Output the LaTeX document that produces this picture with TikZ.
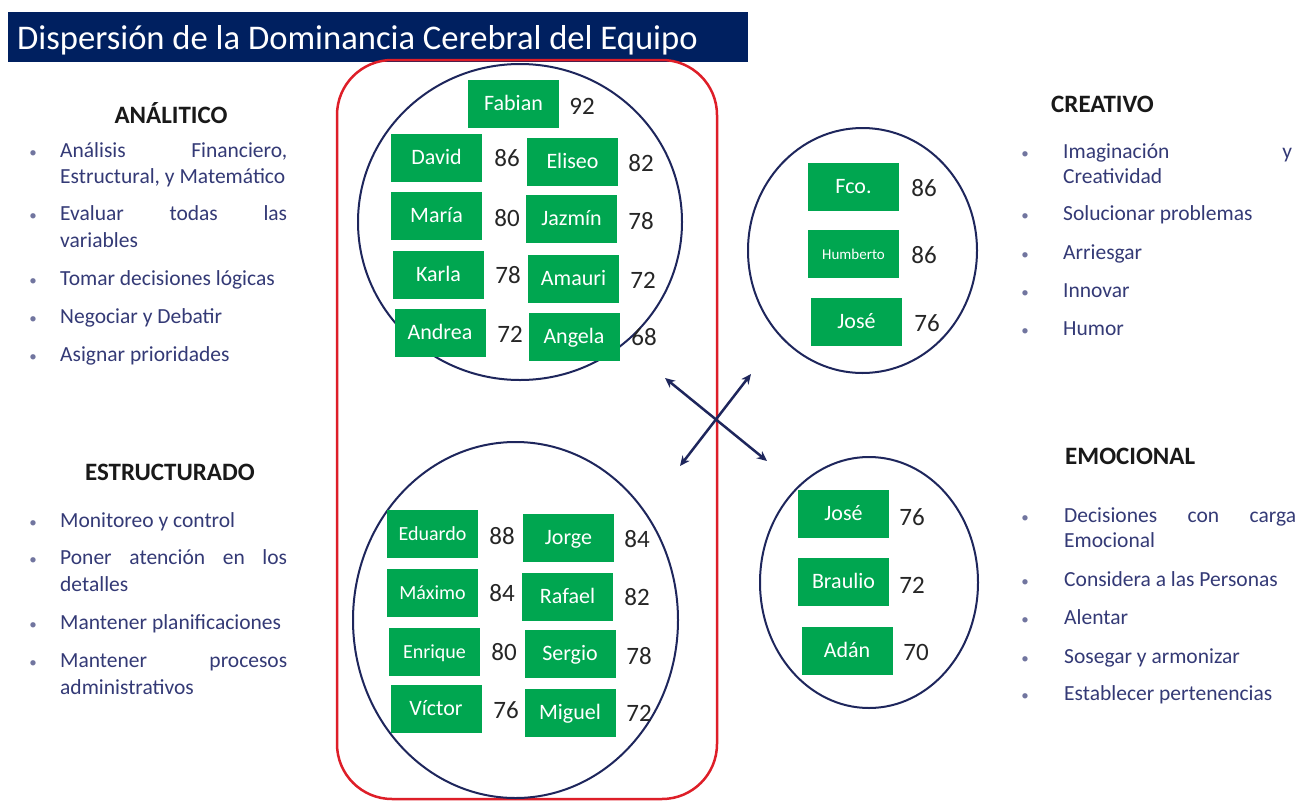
\documentclass[tikz,border=0pt]{standalone}
\usepackage{fontspec}
\setmainfont{Carlito}
\usetikzlibrary{arrows.meta}
\definecolor{navyband}{RGB}{0,32,96}
\definecolor{boxgreen}{RGB}{0,166,80}
\definecolor{circline}{RGB}{30,38,92}
\definecolor{listblue}{RGB}{52,58,118}
\definecolor{framered}{RGB}{222,30,40}
\begin{document}
\begin{tikzpicture}[x=1pt,y=-1pt,
  nbox/.style={fill=boxgreen, text=white, minimum width=91pt, minimum height=48pt, inner sep=0pt,
    text height=15pt, text depth=2pt, font=\fontsize{22}{24}\selectfont},
  sbox/.style={nbox, font=\fontsize{20}{22}\selectfont},
  tbox/.style={nbox, text height=12pt, text depth=1pt, font=\fontsize{15}{17}\selectfont},
  num/.style={text=black!85, inner sep=0pt, text height=16pt, text depth=0pt, font=\fontsize{25}{27}\selectfont},
  circ/.style={draw=circline, line width=2pt},
  lt/.style={anchor=base west, inner sep=0pt, text=listblue, font=\fontsize{21.5}{26}\selectfont},
  bul/.style={anchor=base, inner sep=0pt, text=listblue!70, font=\fontsize{15}{18}\selectfont},
  hd/.style={inner sep=0pt, text=black!90, font=\fontsize{25}{28}\selectfont\bfseries},
  arr/.style={{Stealth[length=10pt,width=9pt]}-{Stealth[length=10pt,width=9pt]}, draw=circline, line width=2.5pt}
]
\path[use as bounding box, fill=white] (0,0) rectangle (1302,801);

% title band
\node[fill=navyband, minimum width=740pt, minimum height=50pt, anchor=north west, inner sep=0pt] (band) at (8,12) {};
\node[anchor=base west, inner sep=0pt, text=white, font=\fontsize{34.6}{40}\selectfont] (title) at (17,49) {Dispersión de la Dominancia Cerebral del Equipo};

% red frame
\draw[framered, line width=2.5pt, rounded corners=55pt] (337,60) rectangle (717,799);

% circles
\draw[circ] (520,222) ellipse [x radius=162, y radius=158];
\draw[circ] (515.5,620) ellipse [x radius=162.5, y radius=178];
\draw[circ] (862.5,250.5) ellipse [x radius=114.5, y radius=122.5];
\draw[circ] (869,582.5) ellipse [x radius=109, y radius=125.5];

% analitico group
\node[nbox] (fabian) at (513.5,104) {Fabian};
\node[num] (n92) at (582,106) {92};
\node[nbox] (david) at (436.5,158) {David};
\node[num] (n86a) at (507,158) {86};
\node[nbox] (eliseo) at (572.5,162) {Eliseo};
\node[num] (n82a) at (641,163) {82};
\node[nbox] (maria) at (436.5,216) {María};
\node[num] (n80a) at (507,218) {80};
\node[nbox] (jazmin) at (571.5,219) {Jazmín};
\node[num] (n78a) at (641,221) {78};
\node[nbox] (karla) at (438.5,275) {Karla};
\node[num] (n78b) at (508,275) {78};
\node[nbox] (amauri) at (573.5,279) {Amauri};
\node[num] (n72a) at (643,280) {72};
\node[nbox] (andrea) at (440,333) {Andrea};
\node[num] (n72b) at (510,334) {72};
\node[nbox] (angela) at (574,337) {Angela};
\node[num] (n68) at (644,337) {68};

% estructurado group
\node[sbox] (eduardo) at (432.5,533.5) {Eduardo};
\node[num] (n88) at (502,536) {88};
\node[nbox] (jorge) at (568.5,537.5) {Jorge};
\node[num] (n84a) at (637,539) {84};
\node[sbox] (maximo) at (432.5,592.5) {Máximo};
\node[num] (n84b) at (502,593) {84};
\node[nbox] (rafael) at (567.5,596.5) {Rafael};
\node[num] (n82b) at (637,597) {82};
\node[sbox] (enrique) at (434.5,651.5) {Enrique};
\node[num] (n80b) at (504,652) {80};
\node[nbox] (sergio) at (570,654) {Sergio};
\node[num] (n78c) at (639,656) {78};
\node[nbox] (victor) at (436,708.5) {Víctor};
\node[num] (n76a) at (506,710) {76};
\node[nbox] (miguel) at (570,712.5) {Miguel};
\node[num] (n72c) at (639,713) {72};

% creativo group
\node[nbox] (fco) at (853.5,186.5) {Fco.};
\node[num] (n86b) at (924,188) {86};
\node[tbox] (humberto) at (853.5,253.5) {Humberto};
\node[num] (n86c) at (924,255) {86};
\node[nbox] (jose1) at (856.5,321.5) {José};
\node[num] (n76b) at (927,323) {76};

% emocional group
\node[nbox] (jose2) at (843.5,514) {José};
\node[num] (n76c) at (912,517) {76};
\node[nbox] (braulio) at (843.5,582) {Braulio};
\node[num] (n72d) at (912,585) {72};
\node[nbox] (adan) at (847,650.5) {Adán};
\node[num] (n70) at (916,652) {70};

% arrows
\coordinate (a1) at (665,378);
\coordinate (a2) at (767,461);
\coordinate (b1) at (680,466);
\coordinate (b2) at (751,374);
\draw[arr] (a1) -- (a2);
\draw[arr] (b1) -- (b2);

% ANALITICO
\node[hd] (hanal) at (171,113) {ANÁLITICO};
\node[bul] (ba1) at (33,157) {•};
\node[lt] (la1) at (60,157) {\hbox to 227pt{Análisis\hfill Financiero,}};
\node[lt] (la2) at (60,183) {Estructural, y Matemático};
\node[bul] (ba2) at (33,220) {•};
\node[lt] (la3) at (60,220) {\hbox to 227pt{Evaluar\hfill todas\hfill las}};
\node[lt] (la4) at (60,247) {variables};
\node[bul] (ba3) at (33,285) {•};
\node[lt] (la5) at (60,285) {Tomar decisiones lógicas};
\node[bul] (ba4) at (33,323) {•};
\node[lt] (la6) at (60,323) {Negociar y Debatir};
\node[bul] (ba5) at (33,361) {•};
\node[lt] (la7) at (60,361) {Asignar prioridades};

% ESTRUCTURADO
\node[hd] (hestr) at (170,472) {ESTRUCTURADO};
\node[bul] (be1) at (33,527) {•};
\node[lt] (le1) at (60,527) {Monitoreo y control};
\node[bul] (be2) at (33,564) {•};
\node[lt] (le2) at (60,564) {\hbox to 227pt{Poner\hfill atención\hfill en\hfill los}};
\node[lt] (le3) at (60,591) {detalles};
\node[bul] (be3) at (33,629) {•};
\node[lt] (le4) at (60,629) {Mantener planificaciones};
\node[bul] (be4) at (33,667) {•};
\node[lt] (le5) at (60,667) {\hbox to 227pt{Mantener\hfill procesos}};
\node[lt] (le6) at (60,694) {administrativos};

% CREATIVO
\node[hd, anchor=west] (hcrea) at (1051,104) {CREATIVO};
\node[bul] (bc1) at (1025,158) {•};
\node[lt] (lc1) at (1063,158) {\hbox to 229pt{Imaginación\hfill y}};
\node[lt] (lc2) at (1063,183) {Creatividad};
\node[bul] (bc2) at (1025,220) {•};
\node[lt] (lc3) at (1063,220) {Solucionar problemas};
\node[bul] (bc3) at (1025,259) {•};
\node[lt] (lc4) at (1063,259) {Arriesgar};
\node[bul] (bc4) at (1025,297) {•};
\node[lt] (lc5) at (1063,297) {Innovar};
\node[bul] (bc5) at (1025,335) {•};
\node[lt] (lc6) at (1063,335) {Humor};

% EMOCIONAL
\node[hd, anchor=west] (hemo) at (1065,456) {EMOCIONAL};
\node[bul] (bm1) at (1025,522) {•};
\node[lt] (lm1) at (1064,522) {\hbox to 232pt{Decisiones\hfill con\hfill carga}};
\node[lt] (lm2) at (1064,547) {Emocional};
\node[bul] (bm2) at (1025,586) {•};
\node[lt] (lm3) at (1064,586) {Considera a las Personas};
\node[bul] (bm3) at (1025,624) {•};
\node[lt] (lm4) at (1064,624) {Alentar};
\node[bul] (bm4) at (1025,663) {•};
\node[lt] (lm5) at (1064,663) {Sosegar y armonizar};
\node[bul] (bm5) at (1025,700) {•};
\node[lt] (lm6) at (1064,700) {Establecer pertenencias};
\end{tikzpicture}
\end{document}
